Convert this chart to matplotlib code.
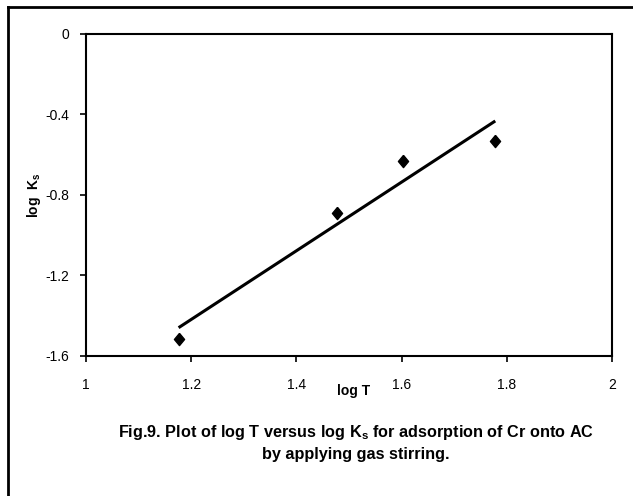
import matplotlib
matplotlib.use("Agg")
import matplotlib.pyplot as plt
from matplotlib.lines import Line2D
import numpy as np

# data
log_t = [1.176, 1.477, 1.602, 1.778]
log_ks = [-1.517, -0.890, -0.631, -0.532]
x_ticks = [1, 1.2, 1.4, 1.6, 1.8, 2]
x_tick_labels = ["1", "1.2", "1.4", "1.6", "1.8", "2"]
y_ticks = [0, -0.4, -0.8, -1.2, -1.6]
y_tick_labels = ["0", "-0.4", "-0.8", "-1.2", "-1.6"]

FONT = ["Liberation Sans Narrow", "Liberation Sans", "DejaVu Sans"]
plt.rcParams["font.family"] = FONT
plt.rcParams["axes.unicode_minus"] = False
plt.rcParams["mathtext.fontset"] = "custom"
plt.rcParams["mathtext.rm"] = "Liberation Sans:bold"
plt.rcParams["mathtext.it"] = "Liberation Sans:bold"
plt.rcParams["mathtext.bf"] = "Liberation Sans:bold"

fig = plt.figure(figsize=(6.33, 4.96), dpi=100)
ax = fig.add_axes([0.1359, 0.2823, 0.8310, 0.6492])

# slightly tall diamond like the spreadsheet marker
diamond = [(0, 1), (0.83, 0), (0, -1), (-0.83, 0), (0, 1)]
ax.plot(log_t, log_ks, ls="none", marker=diamond, ms=8.8, color="black")

# linear trendline (least squares, as in the original spreadsheet)
slope, icpt = np.polyfit(log_t, log_ks, 1)
xs = np.array([min(log_t), max(log_t)])
ax.plot(xs, slope * xs + icpt, color="black", lw=2.2, solid_capstyle="butt")

ax.set_xlim(1, 2)
ax.set_ylim(-1.6, 0)
ax.set_xticks(x_ticks)
ax.set_xticklabels(x_tick_labels)
ax.set_yticks(y_ticks)
ax.set_yticklabels(y_tick_labels)
ax.tick_params(direction="out", length=4, width=1.2, labelsize=10, pad=12, color="black")
ax.tick_params(axis="y", pad=8)
for s in ax.spines.values():
    s.set_linewidth(1.5)

ax.set_xlabel("log T", fontsize=10, fontweight="bold", va="top")
ax.xaxis.set_label_coords(0.508, -0.088)
ax.set_ylabel("log  K$_\\mathrm{s}$", fontsize=10, fontweight="bold", labelpad=2)

fig.text(0.562, 0.108,
         "Fig.9. Plot of log T versus log K$_\\mathrm{s}$ for adsorption of Cr onto AC\nby applying gas stirring.",
         ha="center", va="center", fontsize=11.7, fontweight="bold", linespacing=1.35)

# outer frame (only left and top edges are visible)
fig.add_artist(Line2D([8 / 633, 8 / 633], [0, 489 / 496], color="black", lw=2.0,
                      transform=fig.transFigure))
fig.add_artist(Line2D([8 / 633, 1], [489 / 496, 489 / 496], color="black", lw=2.0,
                      transform=fig.transFigure))

fig.savefig("out.png", dpi=100)
